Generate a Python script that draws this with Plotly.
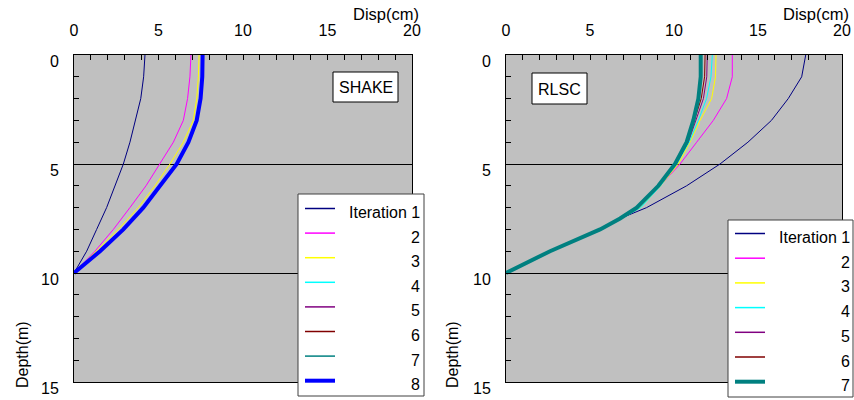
import plotly.graph_objects as go

W, H = 854, 400

# ---------------- data ----------------
depth_left = [0, 1, 2, 3, 4, 5, 6, 7, 8, 9, 10]
shake_it1 = [4.20, 4.12, 3.95, 3.61, 3.31, 2.92, 2.43, 1.93, 1.34, 0.75, 0]
shake_it2 = [6.92, 6.86, 6.72, 6.47, 5.88, 5.09, 4.26, 3.31, 2.33, 1.24, 0]
shake_it3 = [7.40, 7.36, 7.26, 7.06, 6.47, 5.68, 4.79, 3.81, 2.62, 1.34, 0]
shake_it4 = [7.55, 7.53, 7.43, 7.20, 6.70, 5.98, 5.00, 4.02, 2.86, 1.50, 0]
shake_it5 = [7.58, 7.56, 7.46, 7.23, 6.74, 6.03, 5.05, 4.06, 2.89, 1.52, 0]
shake_it6 = [7.60, 7.58, 7.48, 7.25, 6.76, 6.06, 5.07, 4.08, 2.91, 1.53, 0]
shake_it7 = [7.61, 7.59, 7.49, 7.26, 6.77, 6.07, 5.08, 4.09, 2.92, 1.54, 0]
shake_it8 = [7.61, 7.59, 7.49, 7.26, 6.77, 6.08, 5.09, 4.10, 2.92, 1.54, 0]

depth_right = [0, 1, 2, 3, 4, 5, 6, 7, 7.5, 8, 9, 10]
rlsc_it1 = [17.84, 17.60, 16.80, 15.80, 14.40, 12.74, 10.75, 8.37, 6.79, 5.60, 2.62, 0]
rlsc_it2 = [13.47, 13.47, 13.13, 12.34, 11.35, 10.36, 9.17, 7.88, 6.79, 5.60, 2.62, 0]
rlsc_it3 = [12.50, 12.47, 12.24, 11.55, 10.95, 10.26, 9.20, 8.00, 6.85, 5.65, 2.65, 0]
rlsc_it4 = [12.28, 12.20, 11.94, 11.45, 10.90, 10.16, 9.20, 8.02, 6.86, 5.66, 2.68, 0]
rlsc_it5 = [11.98, 11.95, 11.75, 11.30, 10.85, 10.12, 9.12, 7.85, 6.82, 5.62, 2.64, 0]
rlsc_it6 = [11.85, 11.82, 11.62, 11.22, 10.80, 10.10, 9.10, 7.82, 6.80, 5.61, 2.63, 0]
rlsc_it7 = [11.59, 11.59, 11.45, 11.15, 10.75, 10.06, 9.07, 7.78, 6.79, 5.60, 2.62, 0]

shake_series = [shake_it1, shake_it2, shake_it3, shake_it4, shake_it5, shake_it6, shake_it7, shake_it8]
rlsc_series = [rlsc_it1, rlsc_it2, rlsc_it3, rlsc_it4, rlsc_it5, rlsc_it6, rlsc_it7]

legend_labels_left = ["Iteration 1", "2", "3", "4", "5", "6", "7", "8"]
legend_labels_right = ["Iteration 1", "2", "3", "4", "5", "6", "7"]

colors = ["#000080", "#FF00FF", "#FFFF00", "#00FFFF", "#800080", "#800000", "#008080", "#0000FF"]

x_ticks = [0, 5, 10, 15, 20]
y_ticks = [0, 5, 10, 15]

FONT = "Liberation Sans, Arial, sans-serif"


def px(x):
    return x / W


def py(y):
    return 1 - y / H


fig = go.Figure()

# left panel
for i, s in enumerate(shake_series):
    w = 4 if i == 7 else 1
    fig.add_trace(go.Scatter(x=s, y=depth_left, mode="lines", xaxis="x", yaxis="y",
                             line=dict(color=colors[i], width=w), showlegend=False,
                             hoverinfo="skip"))
# right panel
right_colors = colors[:6] + ["#008080"]
for i, s in enumerate(rlsc_series):
    w = 4 if i == 6 else 1
    fig.add_trace(go.Scatter(x=s, y=depth_right, mode="lines", xaxis="x2", yaxis="y2",
                             line=dict(color=right_colors[i], width=w), showlegend=False,
                             hoverinfo="skip"))


def xaxis_cfg(domain, anchor):
    return dict(domain=domain, anchor=anchor, side="top", range=[0, 20],
                tickvals=x_ticks, ticks="inside", ticklen=5, tickcolor="black",
                minor=dict(dtick=1, ticks="inside", ticklen=5, tickcolor="black", showgrid=False),
                showgrid=False, zeroline=False, showline=True, linecolor="black",
                linewidth=1, mirror=True, ticklabelstandoff=12, automargin=False,
                tickfont=dict(family=FONT, size=16, color="black"))


def yaxis_cfg(domain, anchor):
    return dict(domain=domain, anchor=anchor, range=[15, 0], tickvals=y_ticks,
                ticks="inside", ticklen=5, tickcolor="black",
                minor=dict(dtick=1, ticks="inside", ticklen=5, tickcolor="black", showgrid=False),
                showgrid=True, gridcolor="black", gridwidth=1, zeroline=False,
                showline=True, linecolor="black", linewidth=1, mirror=True,
                ticklabelstandoff=11, ticklabelshift=-6, automargin=False,
                tickfont=dict(family=FONT, size=16, color="black"))


ydom = [py(382), py(55)]
fig.update_layout(
    template="none",
    width=W, height=H, autosize=False,
    margin=dict(l=0, r=0, t=0, b=0, pad=0),
    paper_bgcolor="white",
    plot_bgcolor="#C0C0C0",
    xaxis=xaxis_cfg([px(74), px(412)], "y"),
    yaxis=yaxis_cfg(ydom, "x"),
    xaxis2=xaxis_cfg([px(506), px(842)], "y2"),
    yaxis2=yaxis_cfg(ydom, "x2"),
    showlegend=False,
)

annotations = []
shapes = []

# axis titles
for xr in (421, 851):
    annotations.append(dict(x=px(xr), y=py(14), xref="paper", yref="paper", text="Disp(cm)",
                            showarrow=False, xanchor="right", yanchor="middle",
                            font=dict(family=FONT, size=16.5, color="black")))
for xc in (22, 452):
    annotations.append(dict(x=px(xc), y=py(355), xref="paper", yref="paper", text="Depth(m)",
                            showarrow=False, textangle=-90, xanchor="center", yanchor="middle",
                            font=dict(family=FONT, size=16, color="black")))

# method label boxes
for (x0, x1, y0, y1, txt) in [(333, 398, 72, 102, "SHAKE"), (532, 587, 73, 104, "RLSC")]:
    shapes.append(dict(type="rect", xref="paper", yref="paper", x0=px(x0), x1=px(x1),
                       y0=py(y1), y1=py(y0), fillcolor="white",
                       line=dict(color="black", width=1)))
    annotations.append(dict(x=px((x0 + x1) / 2), y=py((y0 + y1) / 2 + 1), xref="paper",
                            yref="paper", text=txt, showarrow=False, xanchor="center",
                            yanchor="middle", font=dict(family=FONT, size=16, color="black")))


# manual legends
def legend(box, labels, cols, thick_idx, first_y, step, line_x0, line_x1, text_right):
    x0, x1, y0, y1 = box
    shapes.append(dict(type="rect", xref="paper", yref="paper", x0=px(x0), x1=px(x1),
                       y0=py(y1), y1=py(y0), fillcolor="white",
                       line=dict(color="#404040", width=1)))
    for i, lab in enumerate(labels):
        yc = first_y + i * step
        wl = 4 if i == thick_idx else 1.5
        shapes.append(dict(type="line", xref="paper", yref="paper", x0=px(line_x0),
                           x1=px(line_x1), y0=py(yc - 4), y1=py(yc - 4),
                           line=dict(color=cols[i], width=wl)))
        annotations.append(dict(x=px(text_right), y=py(yc), xref="paper", yref="paper",
                                text=lab, showarrow=False, xanchor="right", yanchor="middle",
                                font=dict(family=FONT, size=16, color="black")))


legend((298, 424, 194, 396), legend_labels_left, colors, 7, 212.5, 24.6, 305, 335, 422)
legend((728, 853, 220, 397), legend_labels_right, right_colors, 6, 237.5, 24.7, 735, 765, 852)

fig.update_layout(annotations=annotations, shapes=shapes)

fig.write_html("out.html", config={"displayModeBar": False},
               post_script="document.body.style.margin='0px';document.body.style.overflow='hidden';")
